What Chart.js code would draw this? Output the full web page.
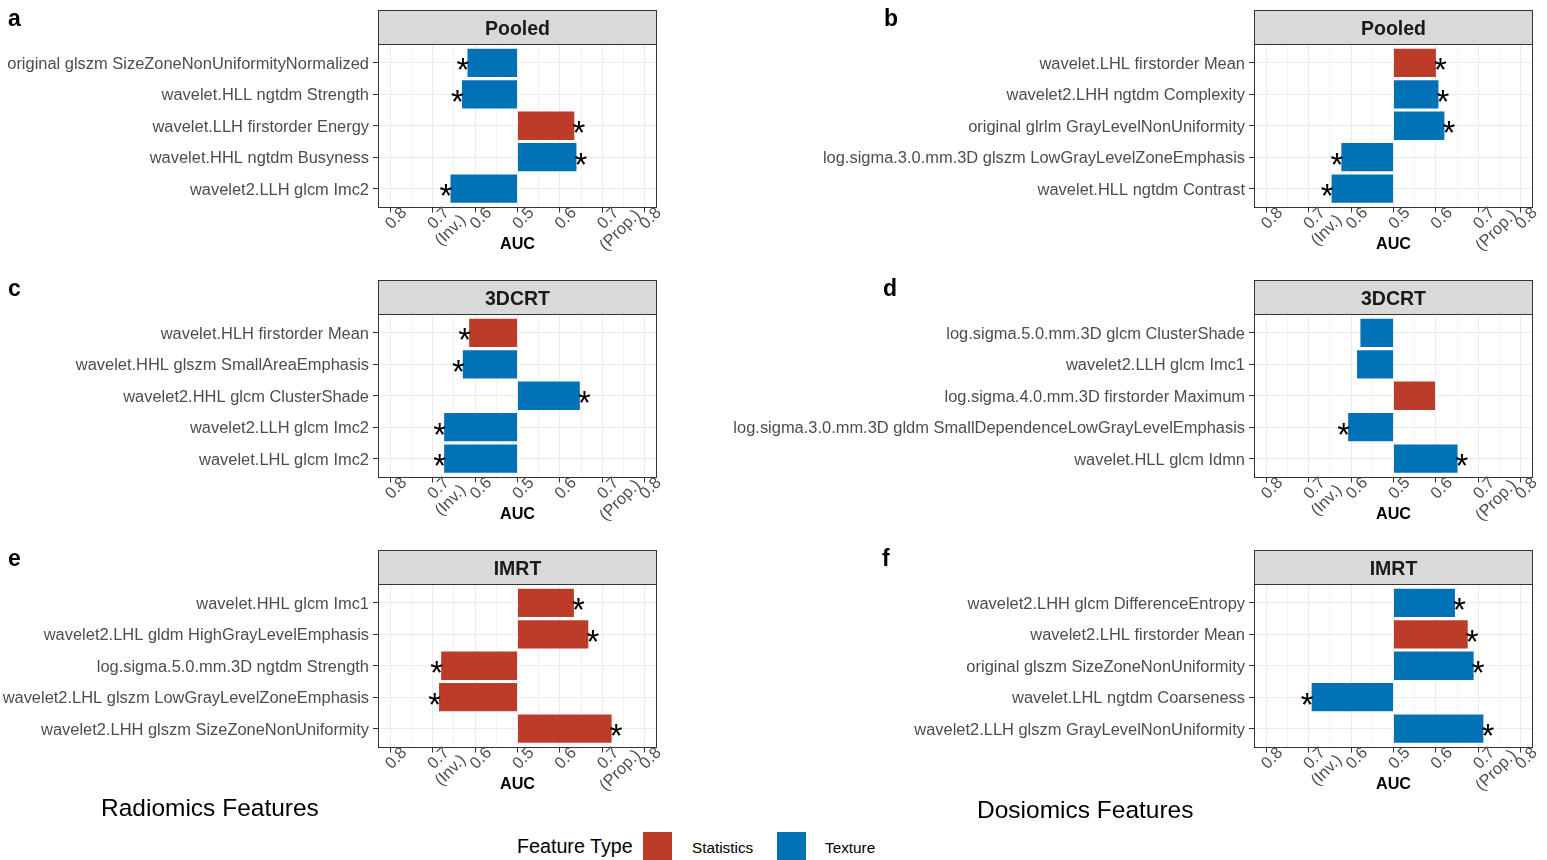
<!DOCTYPE html>
<html>
<head>
<meta charset="utf-8">
<title>AUC of selected radiomics and dosiomics features</title>
<script src="https://cdn.jsdelivr.net/npm/chart.js@4.4.1/dist/chart.umd.min.js"></script>
<style>
  body { margin: 0; background: #fff; width: 1547px; height: 860px; overflow: hidden; position: relative;
         font-family: "Liberation Sans", Arial, sans-serif; }
  canvas { position: absolute; }
  .txt { position: absolute; white-space: nowrap; line-height: 1; color: #000; }
  .letter { position: absolute; line-height: 1; font-size: 23px; font-weight: bold; color: #000; }
  .swatch { position: absolute; width: 29px; height: 28px; }
</style>
</head>
<body>
<canvas id="pa" width="690" height="260" style="left:0;top:10px"></canvas>
<canvas id="pb" width="847" height="260" style="left:700px;top:10px"></canvas>
<canvas id="pc" width="690" height="260" style="left:0;top:280px"></canvas>
<canvas id="pd" width="847" height="260" style="left:700px;top:280px"></canvas>
<canvas id="pe" width="690" height="260" style="left:0;top:550px"></canvas>
<canvas id="pf" width="847" height="260" style="left:700px;top:550px"></canvas>

<div class="letter" style="left:8px;top:7px">a</div>
<div class="letter" style="left:884px;top:7px">b</div>
<div class="letter" style="left:8px;top:277px">c</div>
<div class="letter" style="left:883px;top:277px">d</div>
<div class="letter" style="left:8px;top:547px">e</div>
<div class="letter" style="left:882px;top:547px">f</div>

<div class="txt" style="left:101px;top:796px;font-size:24.5px">Radiomics Features</div>
<div class="txt" style="left:977px;top:798px;font-size:24.5px">Dosiomics Features</div>
<div class="txt" style="left:517px;top:837px;font-size:19.7px">Feature Type</div>
<div class="swatch" style="left:643px;top:832px;background:#BC3C29"></div>
<div class="txt" style="left:692px;top:840px;font-size:15.3px">Statistics</div>
<div class="swatch" style="left:777px;top:832px;background:#0072B5"></div>
<div class="txt" style="left:825px;top:840px;font-size:15.3px">Texture</div>

<script>
// 特徴量タイプの色 ==========================================================
const typeColors = { Statistics: '#BC3C29', Texture: '#0072B5' };

// x軸: AUC (0.5 を中心に Inv. は左, Prop. は右) ================================
const xMajorValues = [-0.3, -0.2, -0.1, 0, 0.1, 0.2, 0.3];
const xMajorLabels = [['0.8'], ['0.7', '(Inv.)'], ['0.6'], ['0.5'], ['0.6'], ['0.7', '(Prop.)'], ['0.8']];
const xMinorValues = [-0.25, -0.15, -0.05, 0.05, 0.15, 0.25];

// a: Radiomics / Pooled
const aLabels = ['original glszm SizeZoneNonUniformityNormalized', 'wavelet.HLL ngtdm Strength',
  'wavelet.LLH firstorder Energy', 'wavelet.HHL ngtdm Busyness', 'wavelet2.LLH glcm Imc2'];
const aAuc = [0.618, 0.631, 0.634, 0.639, 0.658];
const aDir = ['Inv.', 'Inv.', 'Prop.', 'Prop.', 'Inv.'];
const aType = ['Texture', 'Texture', 'Statistics', 'Texture', 'Texture'];
const aSig = [true, true, true, true, true];

// b: Dosiomics / Pooled
const bLabels = ['wavelet.LHL firstorder Mean', 'wavelet2.LHH ngtdm Complexity',
  'original glrlm GrayLevelNonUniformity', 'log.sigma.3.0.mm.3D glszm LowGrayLevelZoneEmphasis',
  'wavelet.HLL ngtdm Contrast'];
const bAuc = [0.600, 0.606, 0.620, 0.623, 0.646];
const bDir = ['Prop.', 'Prop.', 'Prop.', 'Inv.', 'Inv.'];
const bType = ['Statistics', 'Texture', 'Texture', 'Texture', 'Texture'];
const bSig = [true, true, true, true, true];

// c: Radiomics / 3DCRT
const cLabels = ['wavelet.HLH firstorder Mean', 'wavelet.HHL glszm SmallAreaEmphasis',
  'wavelet2.HHL glcm ClusterShade', 'wavelet2.LLH glcm Imc2', 'wavelet.LHL glcm Imc2'];
const cAuc = [0.614, 0.629, 0.647, 0.673, 0.673];
const cDir = ['Inv.', 'Inv.', 'Prop.', 'Inv.', 'Inv.'];
const cType = ['Statistics', 'Texture', 'Texture', 'Texture', 'Texture'];
const cSig = [true, true, true, true, true];

// d: Dosiomics / 3DCRT
const dLabels = ['log.sigma.5.0.mm.3D glcm ClusterShade', 'wavelet2.LLH glcm Imc1',
  'log.sigma.4.0.mm.3D firstorder Maximum', 'log.sigma.3.0.mm.3D gldm SmallDependenceLowGrayLevelEmphasis',
  'wavelet.HLL glcm Idmn'];
const dAuc = [0.578, 0.586, 0.598, 0.607, 0.651];
const dDir = ['Inv.', 'Inv.', 'Prop.', 'Inv.', 'Prop.'];
const dType = ['Texture', 'Texture', 'Statistics', 'Texture', 'Texture'];
const dSig = [false, false, false, true, true];

// e: Radiomics / IMRT
const eLabels = ['wavelet.HHL glcm Imc1', 'wavelet2.LHL gldm HighGrayLevelEmphasis',
  'log.sigma.5.0.mm.3D ngtdm Strength', 'wavelet2.LHL glszm LowGrayLevelZoneEmphasis',
  'wavelet2.LHH glszm SizeZoneNonUniformity'];
const eAuc = [0.633, 0.667, 0.680, 0.685, 0.722];
const eDir = ['Prop.', 'Prop.', 'Inv.', 'Inv.', 'Prop.'];
const eType = ['Statistics', 'Statistics', 'Statistics', 'Statistics', 'Statistics'];
const eSig = [true, true, true, true, true];

// f: Dosiomics / IMRT
const fLabels = ['wavelet2.LHH glcm DifferenceEntropy', 'wavelet2.LHL firstorder Mean',
  'original glszm SizeZoneNonUniformity', 'wavelet.LHL ngtdm Coarseness',
  'wavelet2.LLH glszm GrayLevelNonUniformity'];
const fAuc = [0.645, 0.675, 0.689, 0.693, 0.712];
const fDir = ['Prop.', 'Prop.', 'Prop.', 'Inv.', 'Prop.'];
const fType = ['Texture', 'Statistics', 'Texture', 'Texture', 'Texture'];
const fSig = [true, true, true, true, true];

const FONT = '"Liberation Sans", Arial, sans-serif';
const stripH = 34;
const xAxisH = 62.5;

const left = { axisWidth: 378, padRight: 33 };
const right = { axisWidth: 554, padRight: 14 };

const panels = [
  Object.assign({ id: 'pa', title: 'Pooled', labels: aLabels, auc: aAuc, dir: aDir, type: aType, sig: aSig }, left),
  Object.assign({ id: 'pb', title: 'Pooled', labels: bLabels, auc: bAuc, dir: bDir, type: bType, sig: bSig }, right),
  Object.assign({ id: 'pc', title: '3DCRT', labels: cLabels, auc: cAuc, dir: cDir, type: cType, sig: cSig }, left),
  Object.assign({ id: 'pd', title: '3DCRT', labels: dLabels, auc: dAuc, dir: dDir, type: dType, sig: dSig }, right),
  Object.assign({ id: 'pe', title: 'IMRT', labels: eLabels, auc: eAuc, dir: eDir, type: eType, sig: eSig }, left),
  Object.assign({ id: 'pf', title: 'IMRT', labels: fLabels, auc: fAuc, dir: fDir, type: fType, sig: fSig }, right)
];

function isMajor(v) {
  return Math.abs(v * 10 - Math.round(v * 10)) < 1e-6;
}

// ストリップ・枠線・x軸ラベル・アスタリスク ================================
function decorPlugin(p) {
  return {
    id: 'decor_' + p.id,
    beforeDraw(chart) {
      const { ctx, chartArea: ca } = chart;
      const l = Math.round(ca.left) + 0.5, r = Math.round(ca.right) - 0.5;
      const t = Math.round(ca.top) + 0.5;
      ctx.save();
      ctx.fillStyle = '#d9d9d9';
      ctx.fillRect(l, t - stripH, r - l, stripH);
      ctx.strokeStyle = '#333333';
      ctx.lineWidth = 1;
      ctx.strokeRect(l, t - stripH, r - l, stripH);
      ctx.fillStyle = '#1a1a1a';
      ctx.font = 'bold 19.5px ' + FONT;
      ctx.textAlign = 'center';
      ctx.textBaseline = 'alphabetic';
      ctx.fillText(p.title, (ca.left + ca.right) / 2, ca.top - 8.7);
      ctx.restore();
    },
    afterDatasetsDraw(chart) {
      const { ctx } = chart;
      const meta = chart.getDatasetMeta(0);
      ctx.save();
      ctx.fillStyle = '#000';
      ctx.font = '33px ' + FONT;
      ctx.textAlign = 'center';
      ctx.textBaseline = 'alphabetic';
      const m = ctx.measureText('*');
      const half = (m.actualBoundingBoxAscent - m.actualBoundingBoxDescent) / 2;
      meta.data.forEach((bar, i) => {
        if (!p.sig[i]) return;
        const dir = bar.x >= bar.base ? 1 : -1;
        ctx.fillText('*', bar.x + dir * 4.5, bar.y + 1.5 + half);
      });
      ctx.restore();
    },
    afterDraw(chart) {
      const { ctx, chartArea: ca } = chart;
      const xs = chart.scales.x;
      const l = Math.round(ca.left) + 0.5, r = Math.round(ca.right) - 0.5;
      const t = Math.round(ca.top) + 0.5, b = Math.round(ca.bottom) - 0.5;
      ctx.save();
      ctx.strokeStyle = '#333333';
      ctx.lineWidth = 1;
      ctx.strokeRect(l, t, r - l, b - t);

      // rotated x tick labels
      const lh = 17;
      const k = Math.SQRT1_2;
      ctx.fillStyle = '#4d4d4d';
      ctx.font = '16.4px ' + FONT;
      ctx.textAlign = 'center';
      ctx.textBaseline = 'middle';
      xMajorValues.forEach((v, i) => {
        const px = xs.getPixelForValue(v);
        xMajorLabels[i].forEach((line, j) => {
          const d = (j + 0.5) * lh * k;
          ctx.save();
          ctx.translate(px + d, ca.bottom + 5 + d);
          ctx.rotate(-Math.PI / 4);
          ctx.fillText(line, 0, 0);
          ctx.restore();
        });
      });

      ctx.fillStyle = '#000';
      ctx.font = 'bold 16.2px ' + FONT;
      ctx.textBaseline = 'alphabetic';
      ctx.fillText('AUC', (ca.left + ca.right) / 2, ca.bottom + 41.5);
      ctx.restore();
    }
  };
}

function makePanel(p) {
  const points = p.auc.map((a, i) => ({ x: (p.dir[i] === 'Inv.' ? -1 : 1) * (a - 0.5), y: i + 1 }));
  return new Chart(document.getElementById(p.id), {
    type: 'bar',
    data: {
      datasets: [{
        data: points,
        backgroundColor: p.type.map(t => typeColors[t]),
        borderWidth: 0,
        barPercentage: 0.9,
        categoryPercentage: 1
      }]
    },
    options: {
      indexAxis: 'y',
      responsive: false,
      animation: false,
      devicePixelRatio: 1,
      layout: { padding: { left: 0, top: stripH, right: p.padRight, bottom: 0 } },
      plugins: { legend: { display: false }, tooltip: { enabled: false } },
      scales: {
        x: {
          type: 'linear',
          min: -0.329,
          max: 0.329,
          afterBuildTicks: s => { s.ticks = xMajorValues.concat(xMinorValues).sort((a, b) => a - b).map(v => ({ value: v })); },
          afterFit: s => { s.height = xAxisH; },
          ticks: { display: false },
          border: { display: false },
          grid: {
            color: c => isMajor(c.tick.value) ? '#ebebeb' : '#f2f2f2',
            lineWidth: 1,
            tickColor: c => isMajor(c.tick.value) ? '#333333' : 'rgba(0,0,0,0)',
            tickLength: 5,
            tickWidth: 1
          }
        },
        y: {
          type: 'linear',
          min: 0.4,
          max: 5.6,
          reverse: true,
          offset: false,
          afterBuildTicks: s => { s.ticks = p.labels.map((lab, i) => ({ value: i + 1 })); },
          afterFit: s => { s.width = p.axisWidth; },
          ticks: {
            callback: v => p.labels[v - 1],
            font: { family: FONT, size: 16.45 },
            color: '#4d4d4d',
            padding: 4,
            labelOffset: 1.5,
            autoSkip: false
          },
          border: { display: false },
          grid: { offset: false, color: '#ebebeb', lineWidth: 1, tickColor: '#333333', tickLength: 5, tickWidth: 1 }
        }
      }
    },
    plugins: [decorPlugin(p)]
  });
}

panels.forEach(makePanel);
</script>
</body>
</html>
